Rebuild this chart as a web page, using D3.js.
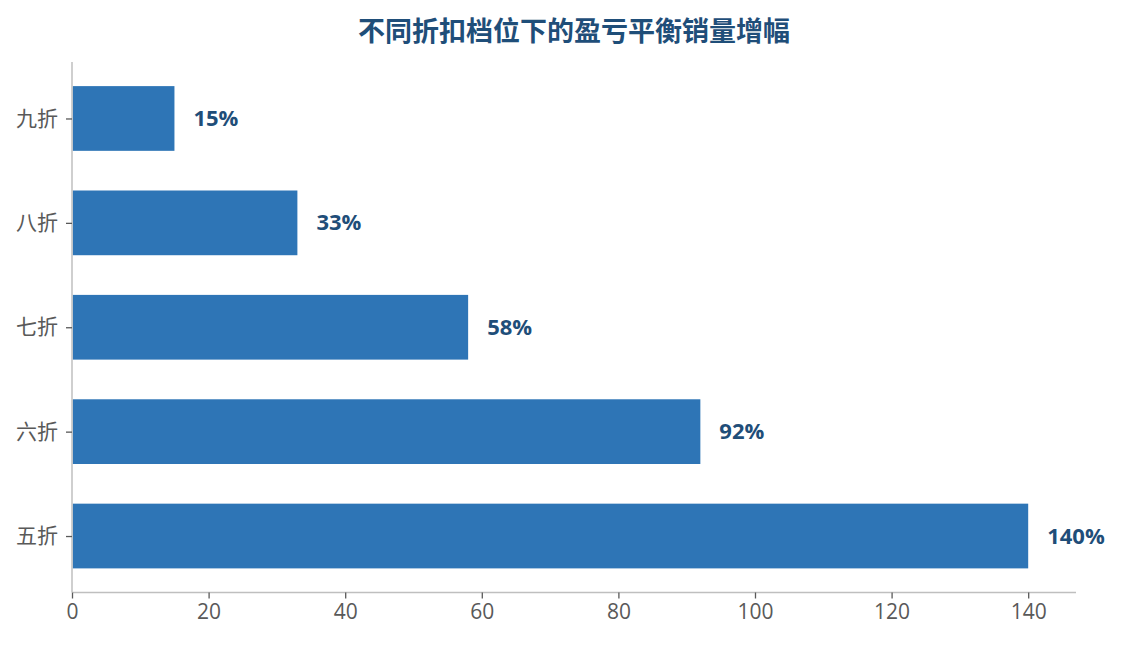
<!DOCTYPE html>
<html><head><meta charset="utf-8">
<script src="https://cdn.jsdelivr.net/npm/d3@7/dist/d3.min.js"></script>
<style>
html,body{margin:0;padding:0;background:#fff;}
text{font-family:"Open Sans","Noto Sans CJK SC",sans-serif;}
</style></head>
<body>
<svg id="chart" width="1121" height="645"></svg>
<script>
const categories = ["九折","八折","七折","六折","五折"];
const values = [15, 33, 58, 92, 140];
const labels = ["15%","33%","58%","92%","140%"];
const xTicks = [0,20,40,60,80,100,120,140];
const title = "不同折扣档位下的盈亏平衡销量增幅";

(function(){
const svg = d3.select("#chart");
const mLeft = 72, mRight = 1076, mTop = 62, mBottom = 592.5;
const barH = 0.62;
const x = d3.scaleLinear().domain([0, 147]).range([mLeft, mRight]);
const y = d3.scaleLinear().domain([-0.541, categories.length - 1 + 0.541]).range([mTop, mBottom]);

svg.append("text").attr("x", (mLeft + mRight) / 2).attr("y", 29)
  .attr("text-anchor", "middle").attr("dominant-baseline", "central")
  .attr("font-size", 27).attr("font-weight", "bold").attr("fill", "#1f4e79")
  .style("font-family", '"Noto Sans CJK SC",sans-serif')
  .text(title);

svg.selectAll("rect.bar").data(values).join("rect").attr("class", "bar")
  .attr("x", x(0) + 0.7)
  .attr("y", (d, i) => y(i - barH / 2))
  .attr("width", d => x(d) - x(0) - 0.7)
  .attr("height", y(barH) - y(0))
  .attr("fill", "#2e75b6");

svg.selectAll("text.val").data(values).join("text").attr("class", "val")
  .attr("x", d => x(d) + 19)
  .attr("y", (d, i) => y(i) - 1.5)
  .attr("dominant-baseline", "central")
  .attr("font-size", 22).attr("font-weight", "bold").attr("fill", "#1f4e79")
  .text((d, i) => labels[i]);

const xAxis = d3.axisBottom(x).tickValues(xTicks).tickSize(6).tickPadding(6).tickSizeOuter(0);
const gx = svg.append("g").attr("transform", `translate(0,${mBottom})`).call(xAxis);
gx.select(".domain").attr("stroke", "#bfbfbf").attr("stroke-width", 1.5).attr("d", `M${mLeft},0H${mRight}`);
gx.selectAll(".tick line").attr("stroke", "#595959").attr("stroke-width", 1.3);
gx.selectAll(".tick text").attr("fill", "#595959").attr("font-size", 21)
  .style("font-family", '"Open Sans",sans-serif');

const yAxis = d3.axisLeft(y).tickValues(d3.range(categories.length))
  .tickFormat(i => categories[i]).tickSize(6).tickPadding(8).tickSizeOuter(0);
const gy = svg.append("g").attr("transform", `translate(${mLeft},0)`).call(yAxis);
gy.select(".domain").attr("stroke", "#bfbfbf").attr("stroke-width", 1.5).attr("d", `M0,${mTop}V${mBottom}`);
gy.selectAll(".tick line").attr("stroke", "#595959").attr("stroke-width", 1.3);
gy.selectAll(".tick text").attr("fill", "#595959").attr("font-size", 21)
  .style("font-family", '"Noto Sans CJK SC",sans-serif');
})();
</script>
</body></html>
